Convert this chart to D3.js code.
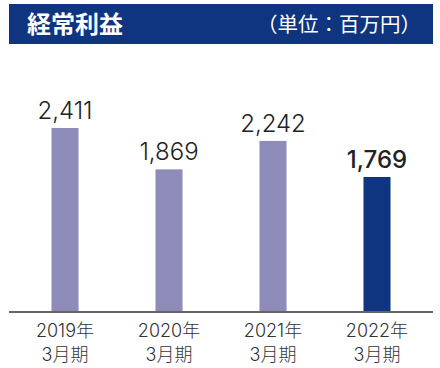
<!DOCTYPE html>
<html><head><meta charset="utf-8">
<script src="https://cdn.jsdelivr.net/npm/d3@7"></script>
<style>body{margin:0;background:#fff}svg{display:block}</style>
</head><body>
<svg id="c" width="440" height="368"></svg>
<script>
const title = "経常利益";
const unit = "（単位：百万円）";
const yearLabels = ["2019年", "2020年", "2021年", "2022年"];
const periodLabels = ["3月期", "3月期", "3月期", "3月期"];
const values = [2411, 1869, 2242, 1769];
const highlight = [false, false, false, true];

const svg = d3.select("#c");
const navy = "#0f3580", lav = "#8f8bb8";
const left = 9, right = 433, base = 312;

svg.append("rect").attr("x", left).attr("y", 4).attr("width", right - left).attr("height", 40).attr("fill", navy);
svg.append("text").attr("x", 27).attr("y", 33).attr("fill", "#fff")
  .attr("font-family", "'Noto Sans CJK JP'").attr("font-weight", 700).attr("font-size", 24).text(title);
svg.append("text").attr("x", 421).attr("y", 32).attr("fill", "#fff").attr("text-anchor", "end")
  .attr("font-family", "'Noto Sans CJK JP'").attr("font-weight", 400).attr("font-size", 20.5).text(unit);

const x = d3.scaleBand().domain(d3.range(values.length)).range([13, 429]).paddingInner(0.74).paddingOuter(0.37);
const y = d3.scaleLinear().domain([0, 2411]).range([base, 128]);

svg.selectAll("rect.bar").data(values).join("rect").attr("class", "bar")
  .attr("x", (d, i) => x(i)).attr("width", x.bandwidth())
  .attr("y", d => y(d)).attr("height", d => base - y(d))
  .attr("fill", (d, i) => highlight[i] ? navy : lav);

const fmt = d3.format(",");
svg.selectAll("text.val").data(values).join("text").attr("class", "val")
  .attr("x", (d, i) => x(i) + x.bandwidth() / 2).attr("y", d => y(d) - 9)
  .attr("text-anchor", "middle").attr("font-family", "Inter").attr("font-size", 24)
  .attr("font-weight", (d, i) => highlight[i] ? 500 : 300)
  .attr("fill", "#222").text(d => fmt(d));

const ax = svg.append("g").attr("transform", `translate(0,${base})`)
  .call(d3.axisBottom(x).tickSize(0).tickFormat(() => ""));
ax.select(".domain").attr("d", `M${left},0H${right}`).attr("stroke", "#666").attr("stroke-width", 2);

const g = svg.append("g").attr("font-family", "Inter, 'Noto Sans CJK JP'").attr("font-weight", 300)
  .attr("font-size", 18).attr("fill", "#333").attr("text-anchor", "middle");
g.selectAll("text.yr").data(yearLabels).join("text").attr("class", "yr")
  .attr("x", (d, i) => x(i) + x.bandwidth() / 2).attr("y", 337).text(d => d);
g.selectAll("text.pd").data(periodLabels).join("text").attr("class", "pd")
  .attr("x", (d, i) => x(i) + x.bandwidth() / 2).attr("y", 361).text(d => d);
</script>
</body></html>
